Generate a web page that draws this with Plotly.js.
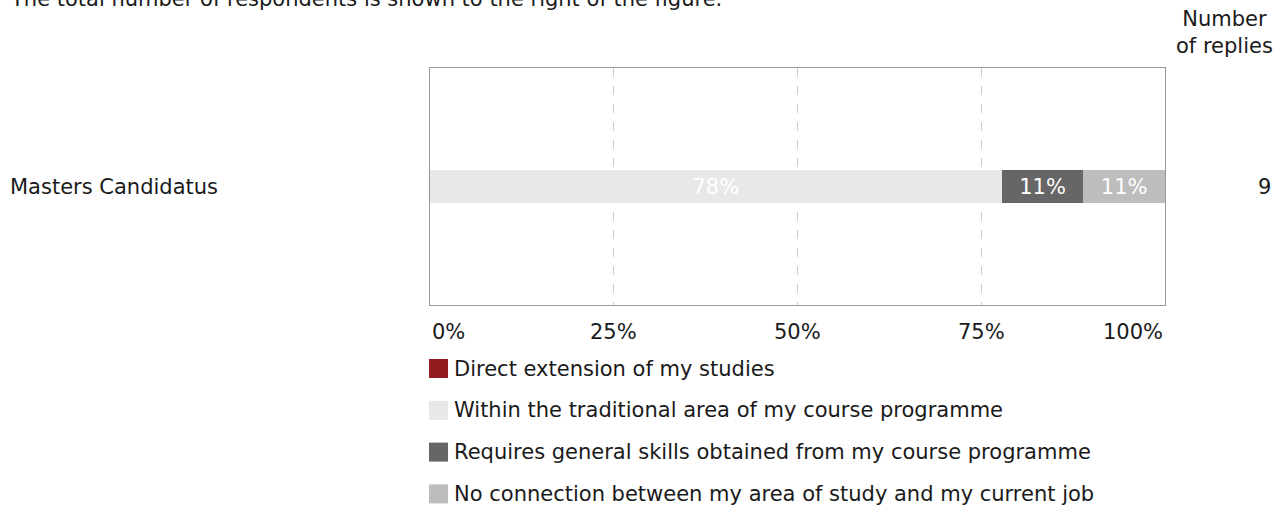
<!DOCTYPE html>
<html>
<head>
<meta charset="utf-8">
<script src="https://cdn.plot.ly/plotly-3.0.1.min.js"></script>
<style>html,body{margin:0;padding:0;background:#fff;}#chart{width:1276px;height:506px;}</style>
</head>
<body>
<div id="chart"></div>
<script>
const categories = ['Masters Candidatus'];
const seriesNames = [
  'Direct extension of my studies',
  'Within the traditional area of my course programme',
  'Requires general skills obtained from my course programme',
  'No connection between my area of study and my current job'
];
const directExtension = [0];
const withinTraditional = [77.78];
const generalSkills = [11.11];
const noConnection = [11.11];
const replies = [9];
const tickValues = [0, 25, 50, 75, 100];
const tickLabels = ['0%', '25%', '50%', '75%', '100%'];
const colors = ['#921c1e', '#e8e8e8', '#666666', '#bdbdbd'];

const W = 1276, H = 506;
const plotL = 430, plotR = 1165, plotT = 68, plotB = 305;
const FONT = 'Verdana, "DejaVu Sans", sans-serif';
const FS = 21;
const TXT = '#1a1a1a';
const px = v => v / W;            // paper x from pixel
const py = v => 1 - v / H;        // paper y from pixel

const seriesValues = [directExtension, withinTraditional, generalSkills, noConnection];
const traces = seriesValues.map((vals, i) => ({
  type: 'bar',
  orientation: 'h',
  name: seriesNames[i],
  y: categories,
  x: vals,
  width: 0.14,
  marker: {color: colors[i], line: {width: 0}},
  text: vals.map(v => v > 0 ? Math.round(v) + '%' : ''),
  textposition: 'inside',
  insidetextanchor: 'middle',
  textfont: {family: FONT, size: FS, color: '#ffffff'},
  constraintext: 'none',
  showlegend: false,
  hoverinfo: 'none'
}));

const annotations = [];
const shapes = [];
// top note (partly above the page, as in the reference)
annotations.push({xref: 'paper', yref: 'paper', x: px(8), y: py(-1), xanchor: 'left', yanchor: 'middle',
  text: 'The total number of respondents is shown to the right of the figure.', showarrow: false,
  font: {family: FONT, size: FS, color: TXT}});
// header
annotations.push({xref: 'paper', yref: 'paper', x: px(1224), y: py(33), xanchor: 'center', yanchor: 'middle', align: 'center',
  text: 'Number<br>of replies', showarrow: false, font: {family: FONT, size: FS, color: TXT}});
// category labels & replies
categories.forEach((c, i) => {
  annotations.push({xref: 'paper', yref: 'y', x: px(8), y: c, xanchor: 'left', yanchor: 'middle',
    text: c, showarrow: false, font: {family: FONT, size: FS, color: TXT}});
  annotations.push({xref: 'paper', yref: 'y', x: px(1273), y: c, xanchor: 'right', yanchor: 'middle',
    text: String(replies[i]), showarrow: false, font: {family: FONT, size: FS, color: TXT}});
});
// x tick labels
tickValues.forEach((v, i) => {
  annotations.push({xref: 'x', yref: 'paper', x: v, y: py(332), yanchor: 'middle',
    xanchor: i === 0 ? 'left' : (i === tickValues.length - 1 ? 'right' : 'center'),
    text: tickLabels[i], showarrow: false, font: {family: FONT, size: FS, color: TXT}});
});
// legend (drawn as squares + labels)
const legendTop = 368.5, legendStep = 41.8, sq = 19;
seriesNames.forEach((n, i) => {
  const cy = legendTop + i * legendStep;
  shapes.push({type: 'rect', xref: 'paper', yref: 'paper',
    x0: px(429), x1: px(429 + sq), y0: py(cy - sq / 2), y1: py(cy + sq / 2),
    fillcolor: colors[i], line: {width: 0}});
  annotations.push({xref: 'paper', yref: 'paper', x: px(452), y: py(cy), xanchor: 'left', yanchor: 'middle',
    text: n, showarrow: false, font: {family: FONT, size: FS, color: TXT}});
});

const layout = {
  width: W, height: H,
  margin: {l: 0, r: 0, t: 0, b: 0},
  paper_bgcolor: '#fff', plot_bgcolor: '#fff',
  barmode: 'stack',
  showlegend: false,
  xaxis: {
    domain: [px(plotL), px(plotR)],
    range: [0, 100], tickvals: tickValues, showticklabels: false, ticks: '',
    showgrid: true, gridcolor: '#cccccc', griddash: 'dash', gridwidth: 1,
    zeroline: false, showline: true, mirror: true, linecolor: '#999999', linewidth: 1,
    fixedrange: true
  },
  yaxis: {
    domain: [py(plotB), py(plotT)],
    type: 'category', range: [-0.5, 0.5], showticklabels: false, ticks: '',
    showgrid: false, zeroline: false, showline: true, mirror: true, linecolor: '#999999', linewidth: 1,
    fixedrange: true
  },
  shapes: shapes,
  annotations: annotations,
  font: {family: FONT}
};

Plotly.newPlot('chart', traces, layout, {displayModeBar: false, staticPlot: true});
</script>
</body>
</html>
